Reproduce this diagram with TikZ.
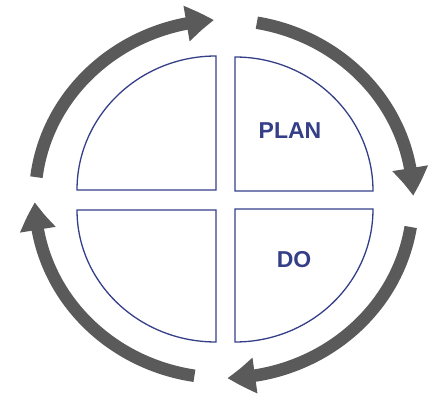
\documentclass[tikz,border=0pt]{standalone}
\usepackage{fontspec}
\setmainfont{Liberation Sans}
\usetikzlibrary{arrows.meta,bending}
\definecolor{arrowgray}{HTML}{5A5A5A}
\definecolor{navy}{HTML}{353F88}
\begin{document}
\begin{tikzpicture}[x=1pt,y=1pt,
  cyclearrow/.style={draw=arrowgray, line width=12.5pt,
     -{Triangle[length=28pt,width=34pt,bend]}},
  quad/.style={draw=navy, line width=1.3pt, fill=white, line join=miter},
  label/.style={font=\bfseries\fontsize{23}{26}\selectfont, text=navy, inner sep=0pt}]
\useasboundingbox (0,0) rectangle (440,402);
\coordinate (c) at (224,203);
% cycle arrows
\draw[cyclearrow] ([shift={(173:189 and 179)}]c) arc[start angle=173, end angle=93, x radius=189, y radius=179];
\draw[cyclearrow] ([shift={(80:189 and 179)}]c) arc[start angle=80, end angle=1, x radius=189, y radius=179];
\draw[cyclearrow] ([shift={(-9:189 and 179)}]c) arc[start angle=-9, end angle=-89, x radius=189, y radius=179];
\draw[cyclearrow] ([shift={(-99:189 and 179)}]c) arc[start angle=-99, end angle=-179, x radius=189, y radius=179];
% quadrants
\coordinate (tl) at (216,212);
\coordinate (tr) at (235,211);
\coordinate (bl) at (216,192);
\coordinate (br) at (235,193);
\draw[quad] (tl) -- ++(0,134) arc[start angle=90, end angle=180, x radius=139, y radius=134] -- cycle;
\draw[quad] (tr) -- ++(138,0) arc[start angle=0, end angle=90, x radius=138, y radius=134] -- cycle;
\draw[quad] (bl) -- ++(-139,0) arc[start angle=180, end angle=270, x radius=139, y radius=132] -- cycle;
\draw[quad] (br) -- ++(138,0) arc[start angle=0, end angle=-90, x radius=138, y radius=133] -- cycle;
% labels
\node[label] (plan) at (290,271.5) {PLAN};
\node[label] (do) at (294,142) {DO};
\end{tikzpicture}
\end{document}
